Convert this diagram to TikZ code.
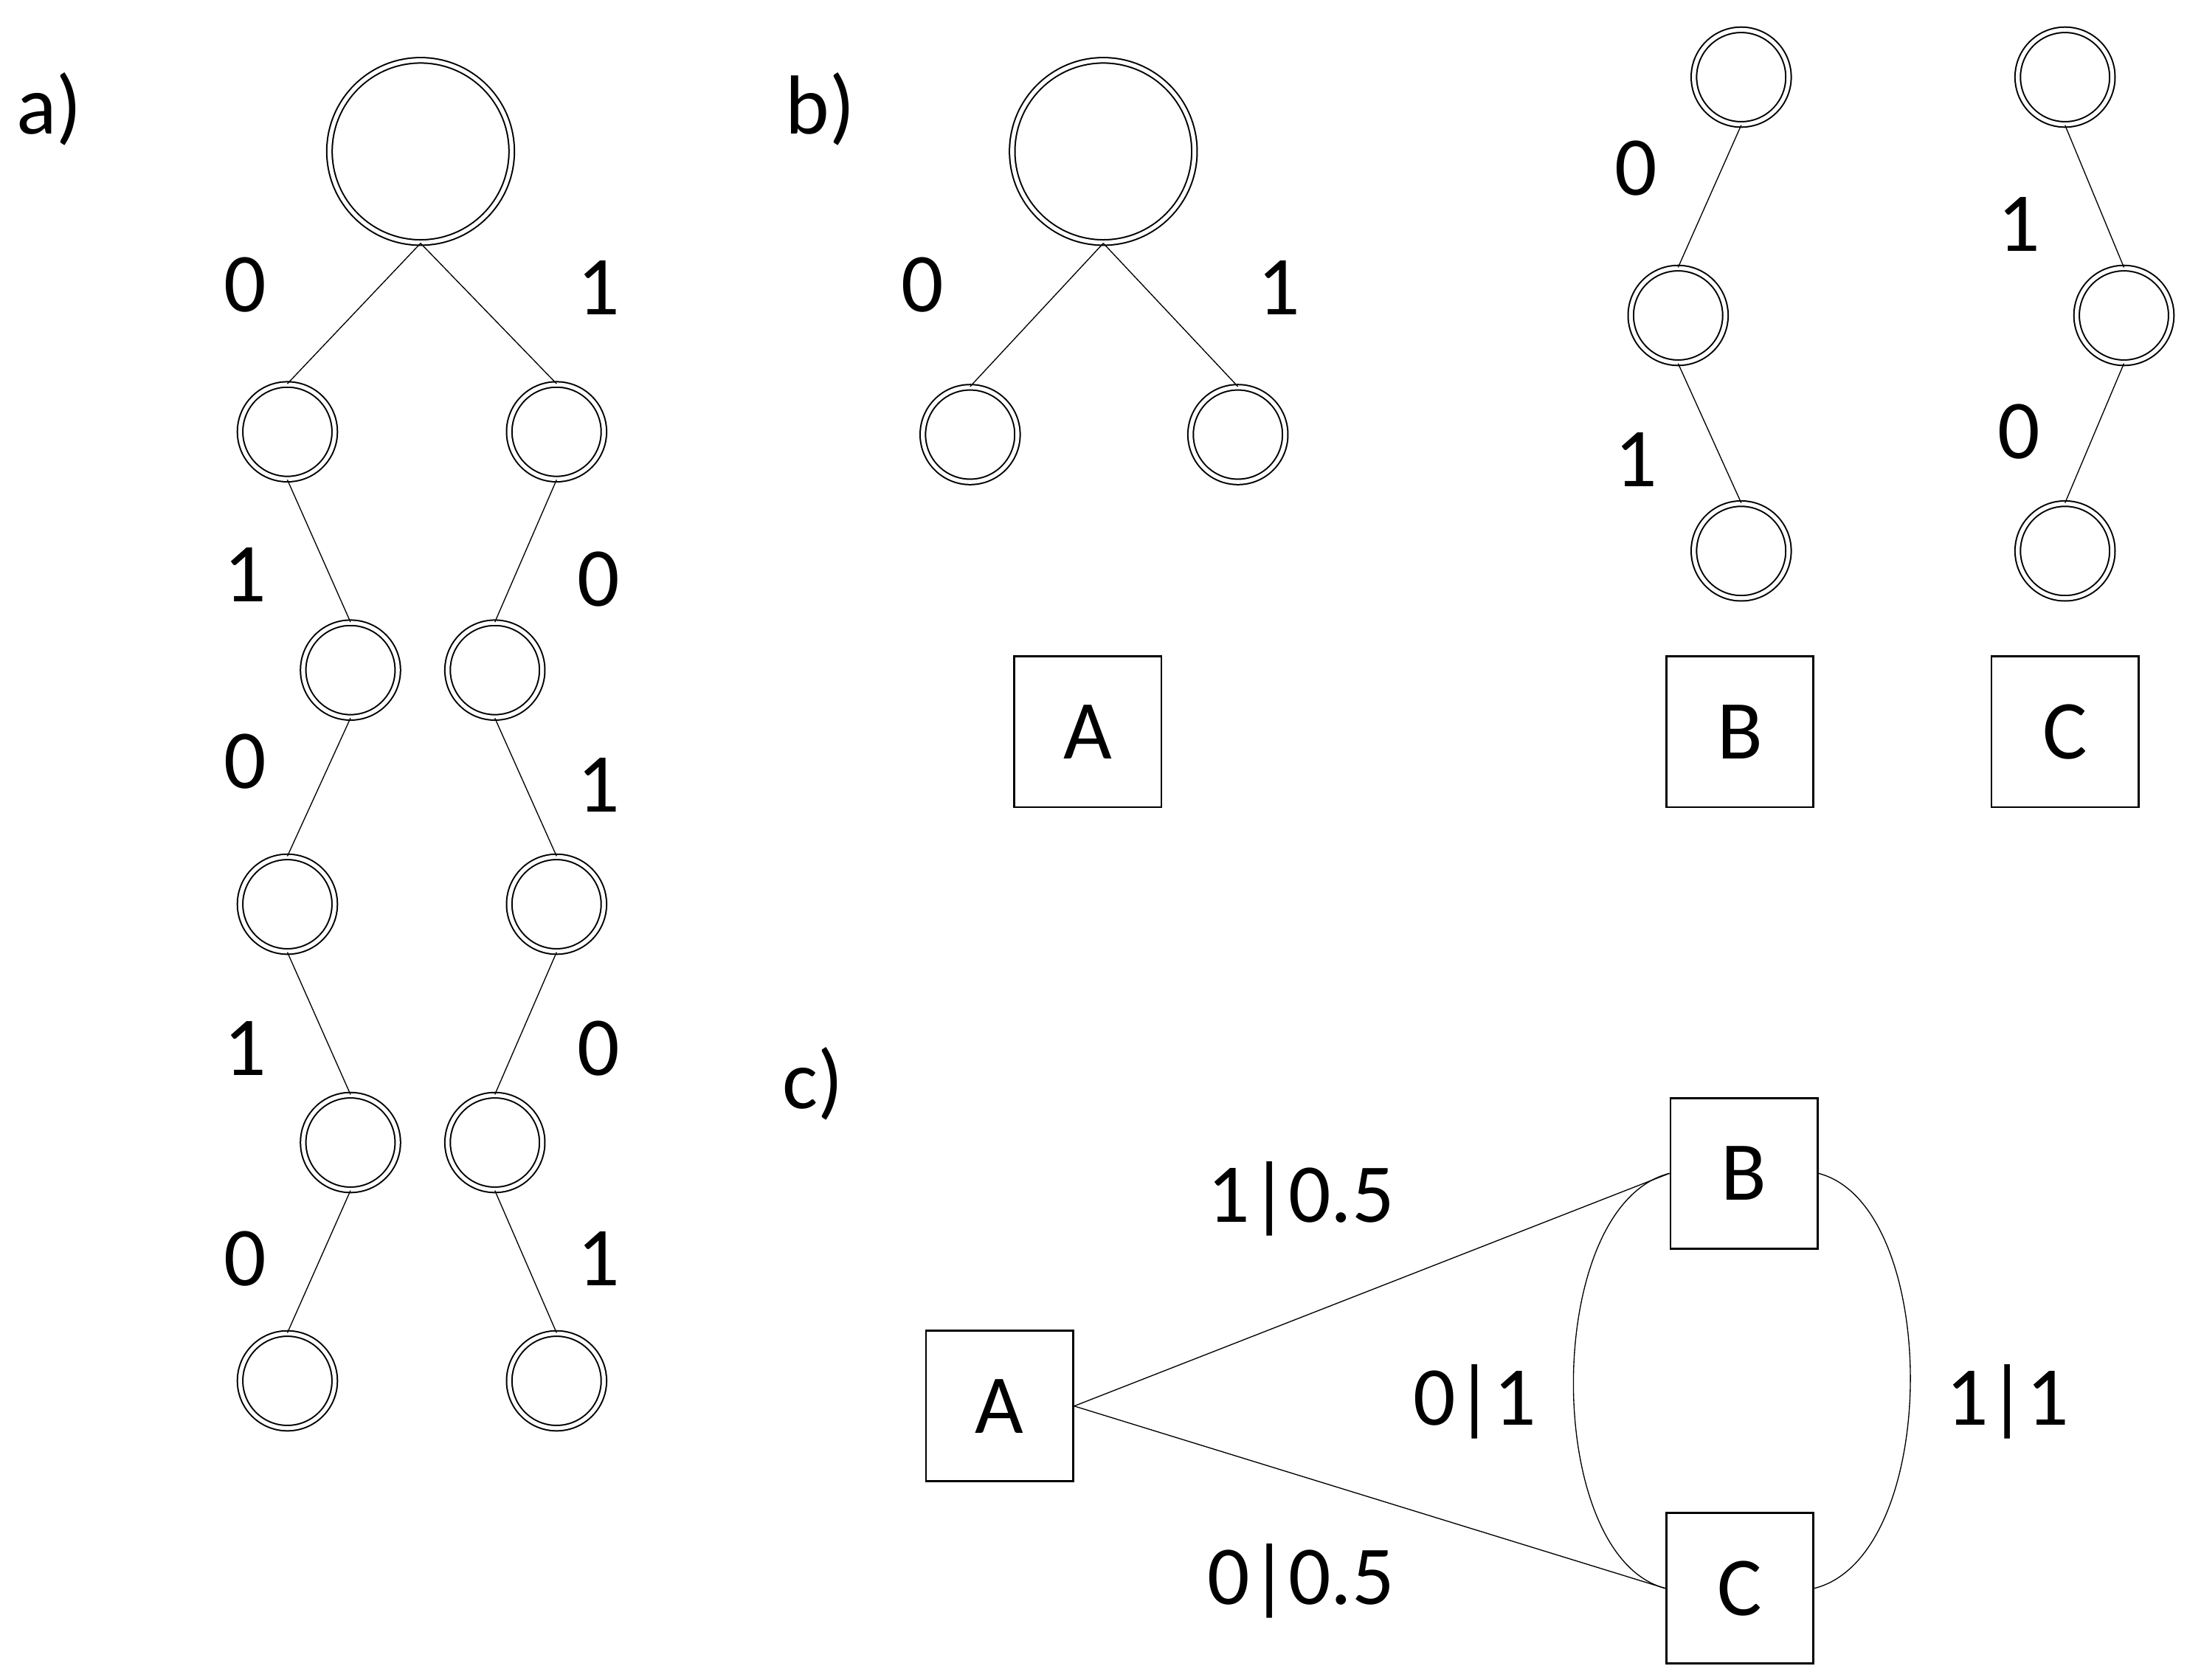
\documentclass[tikz,border=0pt]{standalone}
\usepackage{fontspec}
\setmainfont{Carlito}
\begin{document}
\begin{tikzpicture}[x=0.02cm,y=-0.02cm]
            \tikzset{big/.style = {circle, draw, double, double distance=1.6pt, line width=0.6pt, minimum size=2.6cm, inner sep=0},
                     small/.style = {circle, draw, double, double distance=1.6pt, line width=0.6pt, minimum size=1.35cm, inner sep=0},
                     box/.style = {draw, line width=0.8pt, minimum width=2.1cm, minimum height=2.15cm, font=\fontsize{34}{38}\selectfont},
                     lbl/.style = {font=\fontsize{34}{38}\selectfont}}
            \useasboundingbox (0,0) rectangle (1560,1198);

            % a)
            \node[lbl] at (35,78){a)};
            \node[big] (r) at (300,108){};
            \node[small] (l1) at (205,308){};
            \node[small] (l2) at (250,478){};
            \node[small] (l3) at (205,645){};
            \node[small] (l4) at (250,815){};
            \node[small] (l5) at (205,985){};
            \node[small] (q1) at (397,308){};
            \node[small] (q2) at (353,478){};
            \node[small] (q3) at (397,645){};
            \node[small] (q4) at (353,815){};
            \node[small] (q5) at (397,985){};
            \draw (r.south) -- (l1.north);
            \draw (r.south) -- (q1.north);
            \draw (l1.south) -- (l2.north);
            \draw (l2.south) -- (l3.north);
            \draw (l3.south) -- (l4.north);
            \draw (l4.south) -- (l5.north);
            \draw (q1.south) -- (q2.north);
            \draw (q2.south) -- (q3.north);
            \draw (q3.south) -- (q4.north);
            \draw (q4.south) -- (q5.north);
            \node[lbl] at (175,203){0};
            \node[lbl] at (175,410){1};
            \node[lbl] at (175,543){0};
            \node[lbl] at (175,748){1};
            \node[lbl] at (175,898){0};
            \node[lbl] at (427,205){1};
            \node[lbl] at (427,413){0};
            \node[lbl] at (427,560){1};
            \node[lbl] at (427,748){0};
            \node[lbl] at (427,898){1};

            % b)
            \node[lbl] at (585,78){b)};
            \node[big] (ra) at (787,108){};
            \node[small] (a1) at (692,310){};
            \node[small] (a2) at (883,310){};
            \draw (ra.south) -- (a1.north);
            \draw (ra.south) -- (a2.north);
            \node[lbl] at (658,203){0};
            \node[lbl] at (912,205){1};
            \node[box] (bA) at (776,522){A};

            \node[small] (b1) at (1242,55){};
            \node[small] (b2) at (1197,225){};
            \node[small] (b3) at (1242,393){};
            \draw (b1.south) -- (b2.north);
            \draw (b2.south) -- (b3.north);
            \node[lbl] at (1167,120){0};
            \node[lbl] at (1167,328){1};
            \node[box] (bB) at (1241,522){B};

            \node[small] (c1) at (1473,55){};
            \node[small] (c2) at (1515,225){};
            \node[small] (c3) at (1473,393){};
            \draw (c1.south) -- (c2.north);
            \draw (c2.south) -- (c3.north);
            \node[lbl] at (1440,160){1};
            \node[lbl] at (1440,308){0};
            \node[box] (bC) at (1473,522){C};

            % c)
            \node[lbl] at (580,773){c)};
            \node[box] (A) at (713,1003){A};
            \node[box] (B) at (1244,837){B};
            \node[box] (C) at (1241,1133){C};
            \draw (A.east) -- (B.west);
            \draw (A.east) -- (C.west);
            \draw (B.west) .. controls (1100,860) and (1100,1110) .. (C.west);
            \draw (B.east) .. controls (1385,860) and (1385,1110) .. (C.east);
            \node[lbl] at (928,855){1|0.5};
            \node[lbl] at (928,1128){0|0.5};
            \node[lbl] at (1052,1000){0|1};
            \node[lbl] at (1432,1000){1|1};
\end{tikzpicture}
\end{document}
